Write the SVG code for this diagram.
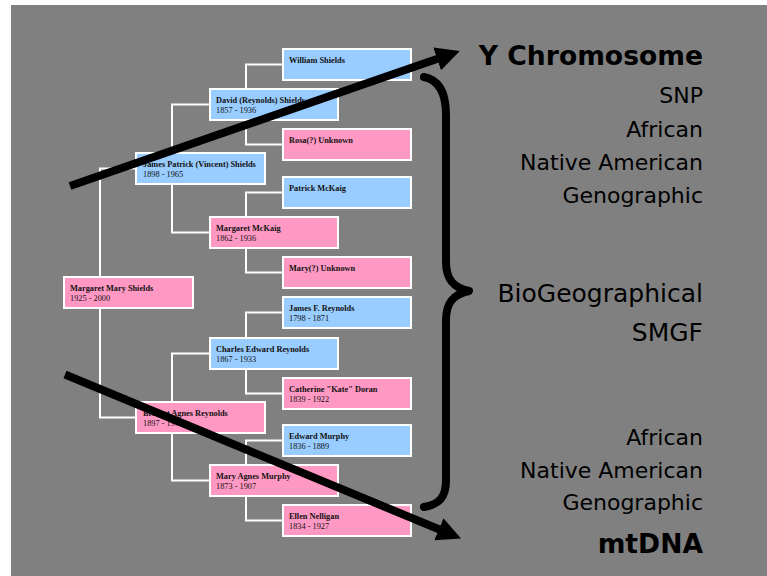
<svg xmlns="http://www.w3.org/2000/svg" width="767" height="576" viewBox="0 0 767 576">
<style>
.m rect{stroke:#fff;stroke-width:2}
.b{fill:#99ccff}
.p{fill:#ff99c4}
.n{font-family:"Liberation Serif","Times New Roman",serif;font-size:8.3px;fill:#111}
.n .nm{font-weight:bold}
.w{stroke:#fff;stroke-width:2;fill:none}
.r{font-family:"DejaVu Sans",Verdana,sans-serif;font-size:22px;fill:#000;text-anchor:end}
.rb{font-weight:bold;font-size:26.6px}
.rl{font-size:25px}
.arr{stroke:#000;stroke-width:8;fill:none}
</style>
<defs>
<marker id="ah" markerUnits="userSpaceOnUse" markerWidth="24" markerHeight="26" viewBox="0 0 24 26" refX="2" refY="13" orient="auto"><path d="M0,1 L24,13 L0,25 z" fill="#000"/></marker>
</defs>
<rect x="11" y="5" width="756" height="571" fill="#808080"/>
<g id="tree-lines" class="w">
<path d="M135,168.5 H100 V276 M100,309 V417.5 H135"/>
<path d="M209,104.5 H172 V152 M172,185 V232.5 H209"/>
<path d="M209,353.5 H172 V401 M172,434 V480.5 H209"/>
<path d="M282,64.5 H246 V88 M246,121 V144.5 H282"/>
<path d="M282,192.5 H246 V216 M246,249 V272.5 H282"/>
<path d="M282,312.5 H246 V337 M246,370 V393.5 H282"/>
<path d="M282,440.5 H246 V464 M246,497 V520.5 H282"/>
</g>
<g class="m n">
<g id="william"><rect class="b" x="283" y="49" width="128" height="31"/><text class="nm" x="289" y="63">William Shields</text></g>
<g id="david"><rect class="b" x="210" y="89" width="128" height="31"/><text class="nm" x="216" y="103">David (Reynolds) Shields</text><text x="216" y="113">1857 - 1936</text></g>
<g id="rosa"><rect class="p" x="283" y="129" width="128" height="31"/><text class="nm" x="289" y="143">Rosa(?) Unknown</text></g>
<g id="james-patrick"><rect class="b" x="136" y="153" width="129" height="31"/><text class="nm" x="143" y="167">James Patrick (Vincent) Shields</text><text x="143" y="177">1898 - 1965</text></g>
<g id="patrick-mckaig"><rect class="b" x="283" y="177" width="128" height="31"/><text class="nm" x="289" y="191">Patrick McKaig</text></g>
<g id="margaret-mckaig"><rect class="p" x="210" y="217" width="128" height="31"/><text class="nm" x="216" y="231">Margaret McKaig</text><text x="216" y="241">1862 - 1936</text></g>
<g id="mary-unknown"><rect class="p" x="283" y="257" width="128" height="31"/><text class="nm" x="289" y="271">Mary(?) Unknown</text></g>
<g id="margaret-mary"><rect class="p" x="64" y="277" width="129" height="31"/><text class="nm" x="70" y="291">Margaret Mary Shields</text><text x="70" y="301">1925 - 2000</text></g>
<g id="james-f"><rect class="b" x="283" y="297" width="128" height="31"/><text class="nm" x="289" y="311">James F. Reynolds</text><text x="289" y="321">1798 - 1871</text></g>
<g id="charles"><rect class="b" x="210" y="338" width="128" height="31"/><text class="nm" x="216" y="352">Charles Edward Reynolds</text><text x="216" y="362">1867 - 1933</text></g>
<g id="catherine"><rect class="p" x="283" y="378" width="128" height="31"/><text class="nm" x="289" y="392">Catherine "Kate" Doran</text><text x="289" y="402">1839 - 1922</text></g>
<g id="agnes-reynolds"><rect class="p" x="136" y="402" width="129" height="31"/><text class="nm" x="143" y="416">Bridget Agnes Reynolds</text><text x="143" y="426">1897 - 1970</text></g>
<g id="edward"><rect class="b" x="283" y="425" width="128" height="31"/><text class="nm" x="289" y="439">Edward Murphy</text><text x="289" y="449">1836 - 1889</text></g>
<g id="mary-agnes"><rect class="p" x="210" y="465" width="128" height="31"/><text class="nm" x="216" y="479">Mary Agnes Murphy</text><text x="216" y="489">1873 - 1907</text></g>
<g id="ellen"><rect class="p" x="283" y="505" width="128" height="31"/><text class="nm" x="289" y="519">Ellen Nelligan</text><text x="289" y="529">1834 - 1927</text></g>
</g>
<g id="connectors">
<line class="arr" x1="70" y1="186" x2="439" y2="58.2" marker-end="url(#ah)"/>
<line class="arr" x1="65" y1="374.5" x2="440.7" y2="530" marker-end="url(#ah)"/>
<path id="brace" class="arr" stroke-linecap="round" stroke-linejoin="round" d="M424,77 C440,80 446,95 446,115 L446,262 C446,280 454,288 469,291 C454,294 446,302 446,320 L446,480 C446,497 440,504 424,507"/>
</g>
<g id="labels" class="r">
<text class="rb" x="703" y="65">Y Chromosome</text>
<text x="703" y="103">SNP</text>
<text x="703" y="137">African</text>
<text x="703" y="170">Native American</text>
<text x="703" y="203">Genographic</text>
<text class="rl" x="703" y="302">BioGeographical</text>
<text class="rl" x="703" y="341">SMGF</text>
<text x="703" y="445">African</text>
<text x="703" y="478">Native American</text>
<text x="703" y="510">Genographic</text>
<text class="rb" x="703" y="553">mtDNA</text>
</g>
</svg>
